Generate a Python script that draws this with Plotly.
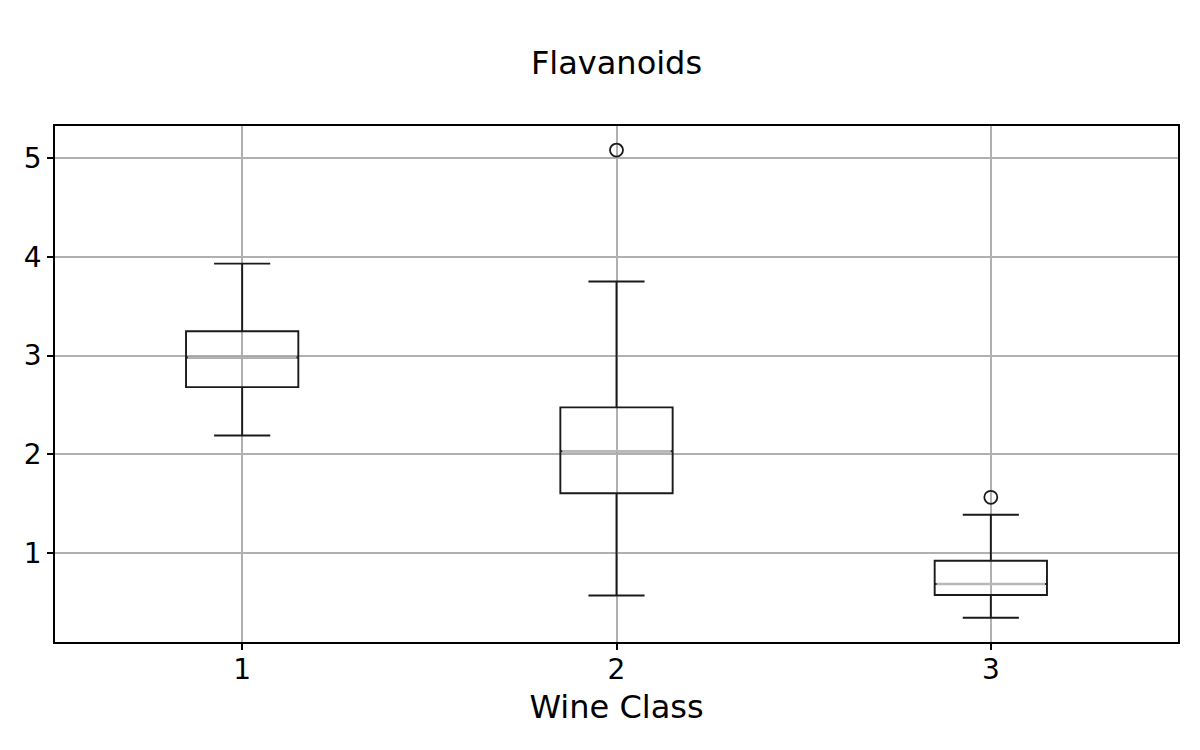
import plotly.graph_objects as go

classes = [1, 2, 3]
q1 = [2.68, 1.605, 0.575]
medians = [2.98, 2.03, 0.686]
q3 = [3.245, 2.475, 0.922]
lower_whisker = [2.19, 0.57, 0.345]
upper_whisker = [3.93, 3.75, 1.388]
outlier_x = [2, 3]
outlier_y = [5.08, 1.564]
tick_vals = [1, 2, 3, 4, 5]

fig = go.Figure()
for i, c in enumerate(classes):
    fig.add_trace(go.Box(
        x=[c], q1=[q1[i]], median=[medians[i]], q3=[q3[i]],
        lowerfence=[lower_whisker[i]], upperfence=[upper_whisker[i]],
        width=0.3, whiskerwidth=0.5, boxpoints=False,
        fillcolor="rgba(0,0,0,0)", line=dict(color="#1a1a1a", width=1.9),
        showlegend=False, hoverinfo="skip"))
    half = 0.15
    fig.add_trace(go.Scatter(
        x=[c - half + 0.005, c + half - 0.005], y=[medians[i], medians[i]],
        mode="lines", line=dict(color="#b8b8b8", width=2.6),
        showlegend=False, hoverinfo="skip"))

fig.add_trace(go.Scatter(
    x=outlier_x, y=outlier_y, mode="markers",
    marker=dict(symbol="circle-open", size=13, color="#1a1a1a", line=dict(width=1.8)),
    showlegend=False, hoverinfo="skip"))

fig.update_layout(
    width=1184, height=734,
    paper_bgcolor="white", plot_bgcolor="white",
    margin=dict(l=47, r=14, t=118, b=100),
    boxmode="overlay",
    font=dict(family="DejaVu Sans", color="black", size=28),
    title=dict(text="Flavanoids", x=0.5, xanchor="center", xref="paper",
               y=1 - 55 / 734, yanchor="middle",
               font=dict(size=32, family="DejaVu Sans", color="black")),
    xaxis=dict(range=[0.5, 3.5], tickvals=classes, ticktext=[str(c) for c in classes],
               showgrid=True, gridcolor="#b0b0b0", gridwidth=1.6,
               ticks="outside", ticklen=6, tickcolor="black", tickwidth=1.6,
               showline=True, linecolor="black", linewidth=1.6, mirror=True,
               zeroline=False, tickfont=dict(size=28), ticklabelstandoff=-4,
               title=dict(text="Wine Class", font=dict(size=32), standoff=10)),
    yaxis=dict(range=[0.099, 5.324], tickvals=tick_vals, ticktext=[str(v) for v in tick_vals],
               showgrid=True, gridcolor="#b0b0b0", gridwidth=1.6,
               ticks="outside", ticklen=6, tickcolor="black", tickwidth=1.6,
               showline=True, linecolor="black", linewidth=1.6, mirror=True,
               zeroline=False, tickfont=dict(size=28)),
)

fig.write_html("out.html")
